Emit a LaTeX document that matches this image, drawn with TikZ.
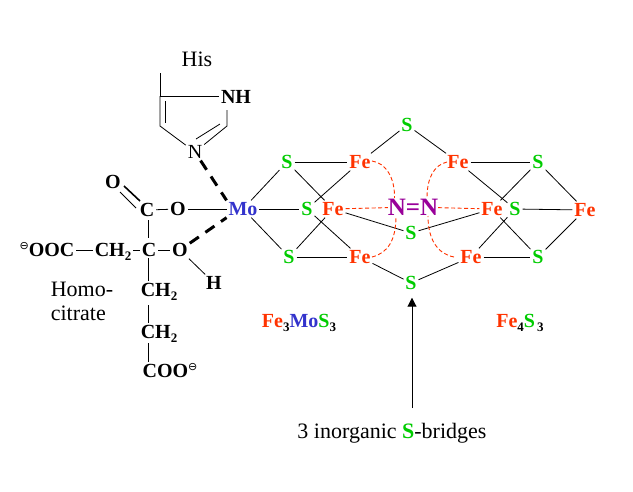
\documentclass[tikz,border=0pt]{standalone}
\usepackage{fontspec}
\setmainfont{Liberation Serif}
\newfontfamily\symfont{DejaVu Sans}
\usetikzlibrary{arrows.meta}
\definecolor{feC}{HTML}{FF3300}
\definecolor{sC}{HTML}{00CC00}
\definecolor{moC}{HTML}{3333CC}
\definecolor{nC}{HTML}{990099}
\newcommand{\lowtwo}[1]{\smash{\raisebox{-4pt}{\fontsize{13}{13}\selectfont\textcolor{black}{#1}}}}
\newcommand{\charge}{\smash{\raisebox{7pt}{\symfont\fontseries{m}\fontsize{11}{11}\selectfont ⊖}}}
\tikzset{
  x=1pt,y=-1pt,
  atom/.style={font=\fontsize{20}{20}\selectfont\bfseries,inner sep=2pt,outer sep=0pt},
  plain/.style={font=\fontsize{22}{24}\selectfont,inner sep=1pt,align=left},
  fe/.style={atom,text=feC},
  sul/.style={atom,text=sC},
  bond/.style={draw=black,line width=0.8pt},
  heavy/.style={draw=black,line width=1.6pt},
  wedge/.style={draw=black,line width=3pt,dash pattern=on 11pt off 8pt},
  fedash/.style={draw=feC,line width=0.9pt,dash pattern=on 4pt off 2.5pt},
}
\begin{document}
\begin{tikzpicture}
\useasboundingbox[fill=white] (0,0) rectangle (633,491);
% labels
\node[plain] (his) at (197,59) {His};
\node[plain] (homo) at (82,301) {Homo-\\citrate};
\node[atom] (fe3) at (299,321) {\textcolor{feC}{Fe}\lowtwo{3}\textcolor{moC}{Mo}\textcolor{sC}{S}\lowtwo{3}};
\node[atom] (fe4) at (520,321) {\textcolor{feC}{Fe}\lowtwo{4}\textcolor{sC}{S}\lowtwo{\,3}};
\node[plain] (bridges) at (392,433) {3 inorganic \textcolor{sC}{\textbf{S}}-bridges};
% histidine
\node[atom] (nh) at (236,97) {NH};
\node[atom,font=\fontsize{20}{20}\selectfont] (nim) at (195,152) {N};
\coordinate (his0) at (160,73);
\coordinate (r1) at (160,96);
\coordinate (r2) at (160,126);
\coordinate (r3) at (227,126);
\coordinate (r4) at (227,110);
\coordinate (r1i) at (165,101);
\coordinate (r2i) at (165,123);
\coordinate (r3i) at (220,124);
\coordinate (r5i) at (196,139);
\draw[bond] (his0) -- (r1) -- (r1 -| nh.west);
\draw[bond] (r1) -- (r2) -- (nim);
\draw[bond] (r1i) -- (r2i);
\draw[bond] (r4) -- (r3) -- (nim);
\draw[bond] (r3i) -- (r5i);
% homocitrate
\node[atom] (o1) at (113,182) {O};
\node[atom] (c1) at (147,210) {C};
\node[atom] (o2) at (178,209) {O};
\node[atom] (c2) at (149,250) {C};
\node[atom] (o3) at (180,250) {O};
\node[atom] (ch2a) at (113,250) {CH\lowtwo{2}};
\node[atom] (ooc) at (47,250) {\charge OOC};
\node[atom] (ch2b) at (159,290) {CH\lowtwo{2}};
\node[atom] (ch2c) at (159,332) {CH\lowtwo{2}};
\node[atom] (coo) at (170,371) {COO\charge};
\node[atom] (hh) at (214,283) {H};
\node[atom,text=moC] (mo) at (243,209) {Mo};
\coordinate (dbA1) at (124,186);
\coordinate (dbA2) at (140,201);
\coordinate (dbB1) at (120,192);
\coordinate (dbB2) at (136,208);
\draw[heavy] (dbA1) -- (dbA2);
\draw[bond] (dbB1) -- (dbB2);
\draw[bond] (c1) -- (o2);
\draw[bond] (o2) -- (mo);
\coordinate (c1s) at (148,220);
\coordinate (c2n) at (148,238);
\coordinate (c2s) at (148,258);
\coordinate (b2s) at (148,305);
\coordinate (c3s) at (148,343);
\draw[bond] (c1s) -- (c2n);
\draw[bond] (ooc) -- (ch2a);
\draw[bond] (ch2a) -- (c2);
\draw[bond] (c2) -- (o3);
\draw[bond] (c2s) -- (c2s |- ch2b.north);
\draw[bond] (b2s) -- (b2s |- ch2c.north);
\draw[bond] (c3s) -- (c3s |- coo.north);
\draw[bond] (o3) -- (hh);
\draw[wedge] (nim) -- (mo.north west);
\draw[wedge] (o3) -- (mo.south west);
% cluster, left
\node[sul] (s1) at (287,162) {S};
\node[fe] (f1) at (360,162) {Fe};
\node[sul] (s2) at (307,209) {S};
\node[fe] (f2) at (333,209) {Fe};
\node[sul] (s3) at (289,257) {S};
\node[fe] (f3) at (360,257) {Fe};
\node[sul] (st) at (407,125) {S};
\node[sul] (sm) at (411,233) {S};
\node[sul] (sb) at (411,283) {S};
% cluster, right
\node[fe] (f4) at (458,162) {Fe};
\node[sul] (s4) at (538,162) {S};
\node[fe] (f5) at (492,209) {Fe};
\node[sul] (s5) at (515,209) {S};
\node[fe] (f6) at (585,210) {Fe};
\node[fe] (f7) at (471,257) {Fe};
\node[sul] (s6) at (538,257) {S};
\node[atom,font=\fontsize{25}{25}\selectfont\bfseries,text=nC,inner sep=0pt] (nn) at (413,207) {N=N};
\foreach \a/\b in {mo/s1,mo/s2,mo/s3,s1/f1,s1/f2,s2/f1,s2/f3,s3/f2,s3/f3,f1/st,f2/sm,f3/sb,
  st/f4,f4/s4,f4/s5,s4/f5,s4/f6,f5/s6,s5/f6,f6/s6,s5/f7,f7/s6,sm/f5,sb/f7}
  \draw[bond] (\a) -- (\b);
% orange N...Fe contacts
\coordinate (nlt) at (394.5,198);
\coordinate (nlb) at (396,216);
\coordinate (nrt) at (427,198);
\coordinate (nrb) at (428,216);
\coordinate (f1e) at (372,161);
\coordinate (f3e) at (372,257);
\coordinate (f4w) at (447,162);
\coordinate (f7w) at (454,257);
\draw[fedash] (f1e) .. controls (386,163) and (395,178) .. (nlt);
\draw[fedash] (f3e) .. controls (388,253) and (396,240) .. (nlb);
\draw[fedash] (f4w) .. controls (434,165) and (427,178) .. (nrt);
\draw[fedash] (f7w) .. controls (438,254) and (428,240) .. (nrb);
\draw[fedash] (f2) -- (nn);
\draw[fedash] (nn) -- (f5);
% arrow
\coordinate (arr) at (412,408);
\draw[black,line width=1pt,-{Triangle[length=9pt,width=9pt]},shorten >=6pt] (arr) -- (arr |- sb.south);
\end{tikzpicture}
\end{document}
